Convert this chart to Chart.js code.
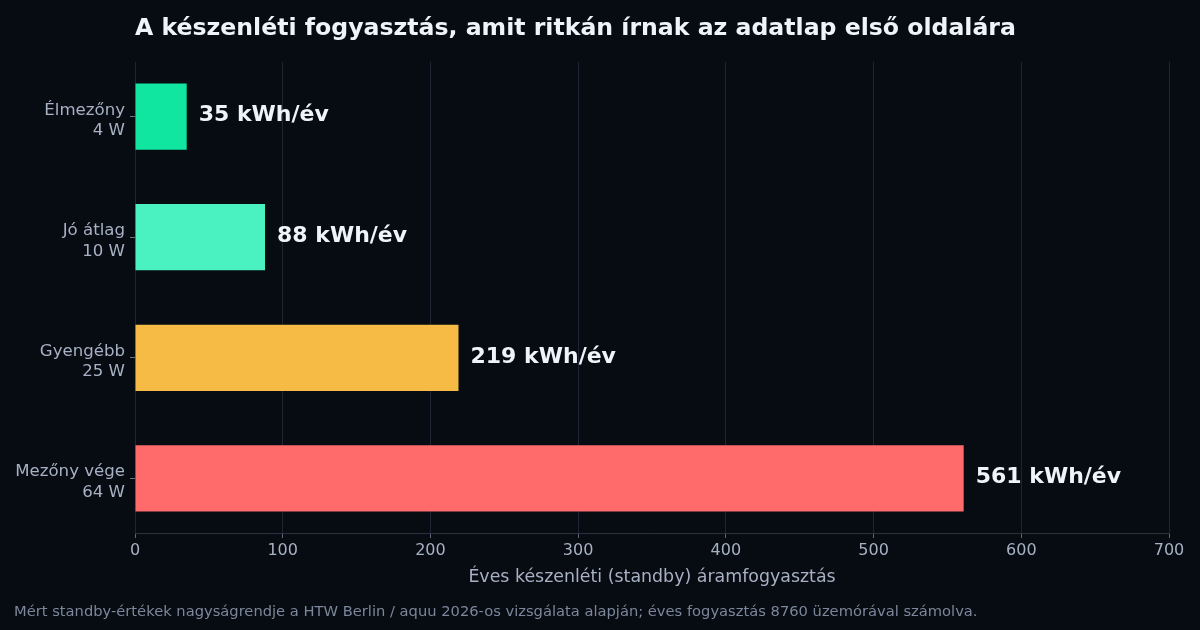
<!DOCTYPE html>
<html>
<head>
<meta charset="utf-8">
<script src="https://cdn.jsdelivr.net/npm/chart.js@4.4.1/dist/chart.umd.min.js"></script>
<style>
  html, body { margin: 0; padding: 0; background: #070b12; }
  #wrap { width: 1200px; height: 630px; position: relative; }
</style>
</head>
<body>
<div id="wrap"><canvas id="myChart" width="1200" height="630"></canvas></div>
<script>
// adatok
const categories = [
    ['Élmezőny', '4 W'],
    ['Jó átlag', '10 W'],
    ['Gyengébb', '25 W'],
    ['Mezőny vége', '64 W']
];
const kwhValues = [35, 88, 219, 561];
const xTicks = [0, 100, 200, 300, 400, 500, 600, 700];
const barColors = ['#10e6a0', '#4af2c2', '#f5bb45', '#ff6b6b'];

const titleText = 'A készenléti fogyasztás, amit ritkán írnak az adatlap első oldalára';
const xTitle = 'Éves készenléti (standby) áramfogyasztás';
const footText = 'Mért standby-értékek nagyságrendje a HTW Berlin / aquu 2026-os vizsgálata alapján; éves fogyasztás 8760 üzemórával számolva.';

const FONT = "'DejaVu Sans', sans-serif";

// cím, lábjegyzet, értékcímkék
const extras = {
    id: 'extras',
    afterDraw(chart) {
        const c = chart.ctx;
        const area = chart.chartArea;
        c.save();
        c.textBaseline = 'middle';
        c.textAlign = 'left';
        c.fillStyle = '#f0f4fa';
        c.font = 'bold 23.6px ' + FONT;
        c.fillText(titleText, area.left, 28.5);

        c.font = 'bold 22px ' + FONT;
        chart.getDatasetMeta(0).data.forEach((bar, i) => {
            c.fillText(kwhValues[i] + ' kWh/év', bar.x + 12, bar.y - 1);
        });

        c.fillStyle = '#7c879b';
        c.font = '14.7px ' + FONT;
        c.fillText(footText, 14, 612);

        c.fillStyle = '#a7b1c4';
        c.font = '17.4px ' + FONT;
        c.textAlign = 'center';
        c.fillText(xTitle, (area.left + area.right) / 2, 577);
        c.restore();
    }
};

const ctx = document.getElementById('myChart').getContext('2d');
const chart = new Chart(ctx, {
    type: 'bar',
    data: {
        labels: [0, 1, 2, 3],
        datasets: [{
            data: kwhValues,
            backgroundColor: barColors,
            barPercentage: 0.55,
            categoryPercentage: 1
        }]
    },
    options: {
        indexAxis: 'y',
        responsive: false,
        animation: false,
        layout: { padding: { top: 62, right: 31, left: 0, bottom: 0 } },
        plugins: {
            legend: { display: false },
            tooltip: { enabled: false }
        },
        scales: {
            y: {
                type: 'linear',
                reverse: true,
                offset: false,
                min: -0.4525,
                max: 3.4525,
                afterBuildTicks: (scale) => {
                    scale.ticks = [0, 1, 2, 3].map(v => ({ value: v }));
                },
                afterFit: (scale) => { scale.width = 135; },
                border: { display: false },
                grid: {
                    offset: false,
                    drawOnChartArea: false,
                    drawTicks: true,
                    tickLength: 5,
                    tickColor: '#6b7588'
                },
                ticks: {
                    color: '#a7b1c4',
                    font: { family: FONT, size: 16.6, lineHeight: 1.25 },
                    padding: 5,
                    labelOffset: 4,
                    callback: (v) => categories[v]
                }
            },
            x: {
                min: 0,
                max: 700,
                afterBuildTicks: (scale) => {
                    scale.ticks = xTicks.map(v => ({ value: v }));
                },
                afterFit: (scale) => { scale.height = 97; },
                border: { display: true, color: '#2a3140' },
                grid: {
                    color: '#1e2533',
                    tickLength: 5,
                    tickColor: '#5d677a'
                },
                ticks: {
                    color: '#a7b1c4',
                    font: { family: FONT, size: 16 },
                    padding: 3
                }
            }
        }
    },
    plugins: [extras]
});
</script>
</body>
</html>
